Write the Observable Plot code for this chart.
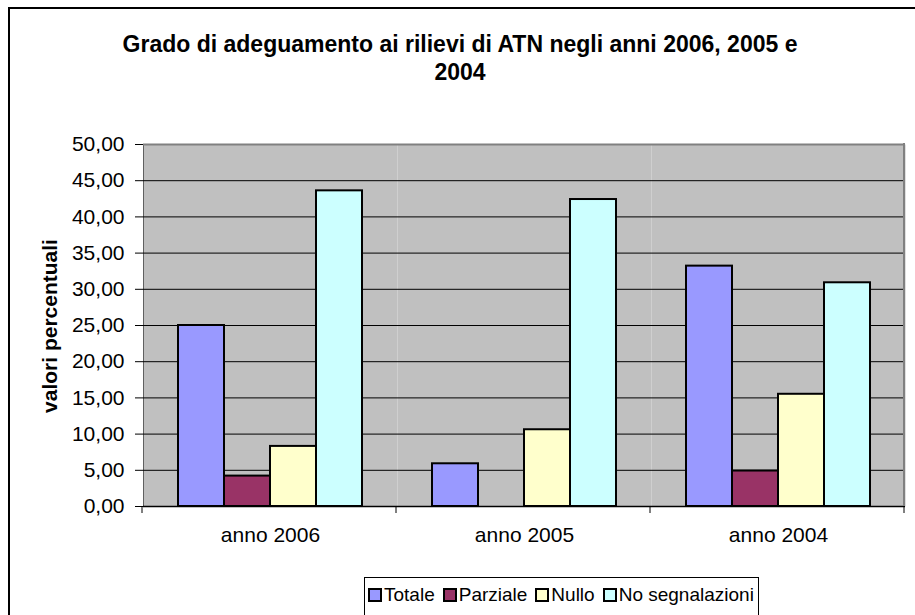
<!DOCTYPE html>
<html>
<head>
<meta charset="utf-8">
<script src="https://cdn.jsdelivr.net/npm/d3@7"></script>
<script src="https://cdn.jsdelivr.net/npm/@observablehq/plot@0.6"></script>
<style>
  html, body { margin: 0; padding: 0; background: #fff; }
  #wrap { position: relative; width: 915px; height: 615px; overflow: hidden; background: #fff;
          font-family: "Liberation Sans", Arial, sans-serif; }
  #border { position: absolute; left: 8px; top: 7px; width: 930px; height: 640px; border: 2px solid #000; box-sizing: border-box; }
  #title { position: absolute; left: 0; top: 30px; width: 920px; text-align: center; font-weight: bold;
           font-size: 23px; line-height: 28px; color: #000; }
  #ytitle { position: absolute; left: 50px; top: 326px; transform: translate(-50%, -50%) rotate(-90deg);
            white-space: nowrap; font-weight: bold; font-size: 21px; color: #000; }
  #chart { position: absolute; left: 0; top: 0; }
  #legend { position: absolute; left: 364px; top: 577px; height: 40px; border: 1px solid #000; box-sizing: border-box;
            display: flex; align-items: center; padding: 0 4px 4px 3px; font-size: 19px; white-space: nowrap; }
  .item { display: flex; align-items: center; margin-right: 8px; }
  .item:last-child { margin-right: 0; }
  .sw { width: 10px; height: 10px; border: 2px solid #000; margin-right: 2px; }
</style>
</head>
<body>
<div id="wrap">
  <div id="border"></div>
  <div id="title">Grado di adeguamento ai rilievi di ATN negli anni 2006, 2005 e<br>2004</div>
  <div id="chart"></div>
  <div id="ytitle">valori percentuali</div>
  <div id="legend"></div>
</div>
<script>
// ---- data ----
const anni = ["anno 2006", "anno 2005", "anno 2004"];
const serie = ["Totale", "Parziale", "Nullo", "No segnalazioni"];
const totale = [25.0, 5.9, 33.2];
const parziale = [4.2, 0.0, 4.9];
const nullo = [8.3, 10.6, 15.5];
const noSegnalazioni = [43.6, 42.4, 30.9];
const colori = ["#9999FF", "#993366", "#FFFFCC", "#CCFFFF"];
const yTicks = [0, 5, 10, 15, 20, 25, 30, 35, 40, 45, 50];

const valoriPerSerie = [totale, parziale, nullo, noSegnalazioni];
const data = [];
anni.forEach((a, i) => serie.forEach((s, j) => data.push({anno: a, serie: s, valore: valoriPerSerie[j][i]})));

const fmt = d => d3.format(".2f")(d).replace(".", ",");

const chart = Plot.plot({
  width: 915,
  height: 615,
  marginTop: 144,
  marginRight: 9,
  marginBottom: 109,
  marginLeft: 142,
  style: {fontSize: "21px", fontFamily: "Liberation Sans, Arial, sans-serif", background: "transparent", color: "#000"},
  facet: {data, x: "anno"},
  fx: {domain: anni, padding: 0, label: null, axis: "bottom", tickSize: 0, tickPadding: 21},
  x: {domain: serie, paddingInner: 0, paddingOuter: 0.74, axis: null},
  y: {domain: [0, 50], ticks: yTicks, tickFormat: fmt, tickSize: 8, tickPadding: 11, label: null, line: true},
  color: {domain: serie, range: colori},
  marks: [
    Plot.frame({fill: "#C0C0C0", stroke: "none"}),
    Plot.ruleY(yTicks.filter(t => t > 0 && t < 50), {stroke: "#000", strokeWidth: 1}),
    Plot.ruleY([50], {stroke: "#808080", strokeWidth: 2}),
    Plot.barY(data, {x: "serie", y: "valore", fill: "serie", stroke: "#000", strokeWidth: 2}),
    Plot.ruleY([0], {stroke: "#000", strokeWidth: 1.5})
  ]
});
document.getElementById("chart").appendChild(chart);

// boundary ticks and right border, from the chart's own scales
const fx = chart.scale("fx");
const ys = chart.scale("y");
const y0 = ys.range[0], y1 = ys.range[1];
const left = fx.range[0], step = fx.step;
const svg = d3.select(chart);
const g = svg.append("g");
for (let i = 0; i <= anni.length; i++) {
  const x = left + i * step;
  g.append("line").attr("x1", x).attr("x2", x).attr("y1", y0).attr("y2", y0 + 7).attr("stroke", "#000").attr("stroke-width", 1);
}
g.append("line").attr("x1", left + anni.length * step).attr("x2", left + anni.length * step)
  .attr("y1", y1 - 1).attr("y2", y0).attr("stroke", "#808080").attr("stroke-width", 2);

// legend
const legend = document.getElementById("legend");
serie.forEach((s, i) => {
  const it = document.createElement("div");
  it.className = "item";
  const sw = document.createElement("div");
  sw.className = "sw";
  sw.style.background = colori[i];
  const t = document.createElement("span");
  t.textContent = s;
  it.appendChild(sw); it.appendChild(t);
  legend.appendChild(it);
});
</script>
</body>
</html>
